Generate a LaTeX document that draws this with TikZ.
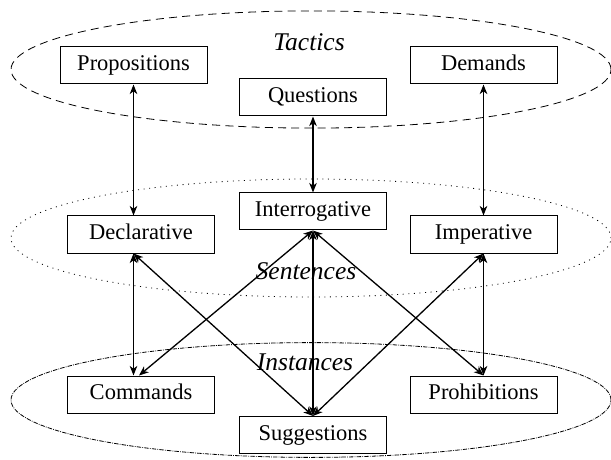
\documentclass[tikz,border=0pt]{standalone}
\usepackage{fontspec}
\setmainfont{Liberation Serif}
\usetikzlibrary{arrows.meta,calc}
\begin{document}
\begin{tikzpicture}[x=0.5pt,y=-0.5pt,
  box/.style={draw,line width=0.5pt,minimum width=73.5pt,minimum height=18.5pt,
    inner sep=0pt,text height=7.6pt,text depth=2.4pt,font=\fontsize{11.25}{13}\selectfont},
  tag/.style={font=\fontsize{12.75}{14}\selectfont\itshape},
  tip/.style={Stealth[length=4.8pt,width=3.8pt,inset=1.4pt]},
  link/.style={line width=0.65pt,{Stealth[length=4.8pt,width=3.8pt,inset=1.4pt]}-{Stealth[length=4.8pt,width=3.8pt,inset=1.4pt]}},
  group/.style={line width=0.4pt}]
\useasboundingbox (0,0) rectangle (611,460);

% the three layers
\draw[group,dash pattern=on 4pt off 2.6pt] (311,69.5) ellipse [x radius=150pt,y radius=29.3pt];
\draw[group,dash pattern=on 0.5pt off 2.3pt] (311,238) ellipse [x radius=150pt,y radius=29.5pt];
\draw[group,dash pattern=on 2.2pt off 0.6pt on 0.4pt off 0.6pt] (311,400) ellipse [x radius=150pt,y radius=28.7pt];

\node[tag] (ltac) at (309,42) {Tactics};
\node[tag] (lsen) at (306,271) {Sentences};
\node[tag] (lins) at (305,362) {Instances};

% tactics
\node[box] (prop) at (133.5,65.5) {Propositions};
\node[box] (ques) at (313,97.5) {Questions};
\node[box] (dem) at (483.5,65.5) {Demands};
% sentences
\node[box] (decl) at (141,234.5) {Declarative};
\node[box] (inter) at (313,211.5) {Interrogative};
\node[box] (imp) at (483.5,234.5) {Imperative};
% instances
\node[box] (cmd) at (141,394.5) {Commands};
\node[box] (sugg) at (313,435) {Suggestions};
\node[box] (proh) at (483.5,394.5) {Prohibitions};

\coordinate (declS) at (prop |- decl.south);
\coordinate (cmdN) at ($(cmd.north)+(-2,0)$);

\draw[link] (prop.south) -- (prop |- decl.north);
\draw[link] (ques.south) -- (inter.north);
\draw[link] (dem.south) -- (dem |- imp.north);

\draw[link] (declS) -- (prop |- cmd.north);
\draw[link] (declS) -- (sugg.north);
\draw[link] (inter.south) -- (cmdN);
\draw[link] (inter.south) -- (sugg.north);
\draw[link] (inter.south) -- (proh.north);
\draw[link] (imp.south) -- (proh.north);
\draw[link] (imp.south) -- (sugg.north);
\end{tikzpicture}
\end{document}
